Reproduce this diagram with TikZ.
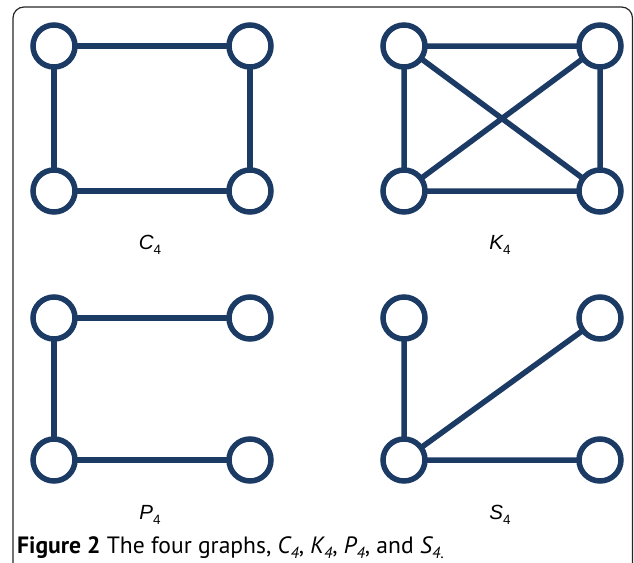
\documentclass[tikz,border=0pt]{standalone}
\usepackage{fontspec}
\usetikzlibrary{backgrounds}
\setmainfont{PT Sans}
\newfontfamily\labfont{Liberation Sans}
\definecolor{navy}{RGB}{27,58,100}
\newcommand{\labsub}[1]{\raisebox{-0.28em}{\fontsize{13.5}{13.5}\selectfont\upshape #1}}
\newcommand{\capsub}[1]{\raisebox{-0.22em}{\fontsize{16}{16}\selectfont #1}}
\begin{document}
\begin{tikzpicture}[x=1pt,y=-1pt,
  vtx/.style={circle,draw=navy,line width=5.5pt,fill=white,minimum size=42pt,inner sep=0pt},
  edge/.style={draw=navy,line width=5.5pt},
  lab/.style={font=\labfont\fontsize{20.5}{20.5}\selectfont,anchor=base,inner sep=0pt}]
\useasboundingbox (0,0) rectangle (634,562);
\begin{scope}
\clip (0,0) rectangle (634,562);
\draw[line width=1.2pt,rounded corners=11pt,black!85] (13,7) rectangle (632.5,575);
\end{scope}
% C4
\node[vtx] (c1) at (54,46) {};
\node[vtx] (c2) at (250,46) {};
\node[vtx] (c3) at (54,191) {};
\node[vtx] (c4) at (250,191) {};
% K4
\node[vtx] (k1) at (404,46) {};
\node[vtx] (k2) at (600,46) {};
\node[vtx] (k3) at (404,191) {};
\node[vtx] (k4) at (600,191) {};
% P4
\node[vtx] (p1) at (54,318) {};
\node[vtx] (p2) at (250,318) {};
\node[vtx] (p3) at (54,460) {};
\node[vtx] (p4) at (250,460) {};
% S4
\node[vtx] (s1) at (404,318) {};
\node[vtx] (s2) at (600,318) {};
\node[vtx] (s3) at (404,460) {};
\node[vtx] (s4) at (600,460) {};
\begin{pgfonlayer}{background}
\path[edge] (c1.center)--(c2.center) (c2.center)--(c4.center) (c4.center)--(c3.center) (c3.center)--(c1.center);
\path[edge] (k1.center)--(k2.center) (k2.center)--(k4.center) (k4.center)--(k3.center) (k3.center)--(k1.center) (k1.center)--(k4.center) (k2.center)--(k3.center);
\path[edge] (p2.center)--(p1.center) (p1.center)--(p3.center) (p3.center)--(p4.center);
\path[edge] (s3.center)--(s1.center) (s3.center)--(s2.center) (s3.center)--(s4.center);
\end{pgfonlayer}
\node[lab] (lc) at (150,249) {\itshape C\labsub{4}};
\node[lab] (lk) at (500,249) {\itshape K\labsub{4}};
\node[lab] (lp) at (150,519) {\itshape P\labsub{4}};
\node[lab] (ls) at (500,519) {\itshape S\labsub{4}};
\node[anchor=base west,inner sep=0pt,font=\fontsize{23.6}{23.6}\selectfont] (cap) at (17,553)
 {\textbf{Figure 2} The four graphs, \textit{C\capsub{4}}, \textit{K\capsub{4}}, \textit{P\capsub{4}}, and \textit{S\capsub{4}}\capsub{.}};
\end{tikzpicture}
\end{document}
